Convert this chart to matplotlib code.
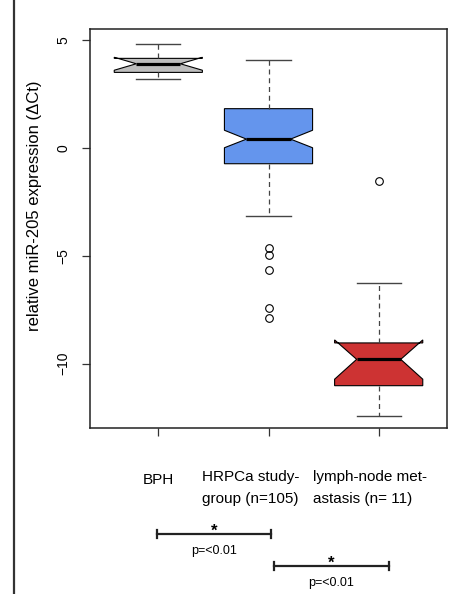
import matplotlib.pyplot as plt
from matplotlib.lines import Line2D

plt.rcParams['font.family'] = ['Liberation Sans', 'DejaVu Sans']

# group stats (relative miR-205 expression, dCt)
groups = ['BPH', 'HRPCa study-\ngroup (n=105)', 'lymph-node met-\nastasis (n= 11)']
whis_lo = [3.18, -3.15, -12.42]
q1 = [3.49, -0.74, -11.02]
medians = [3.89, 0.40, -9.80]
q3 = [4.14, 1.81, -9.04]
whis_hi = [4.80, 4.05, -6.26]
notch_lo = [3.59, 0.00, -10.72]
notch_hi = [4.19, 0.81, -8.90]
outliers = [[], [-4.63, -4.97, -5.66, -7.41, -7.90], [-1.53]]
colors = ['#BEBEBE', '#6495ED', '#CD3333']

# significance brackets
brackets = [(0.985, 2.02), (2.05, 3.09)]
p_labels = ['p=<0.01', 'p=<0.01']

W, H = 454, 594
fig = plt.figure(figsize=(W / 100, H / 100), dpi=100)
ax = fig.add_axes([90 / W, 1 - 428 / H, (447 - 90) / W, (428 - 29) / H])

stats = []
for i in range(len(groups)):
    stats.append(dict(med=medians[i], q1=q1[i], q3=q3[i],
                      whislo=whis_lo[i], whishi=whis_hi[i],
                      cilo=notch_lo[i], cihi=notch_hi[i],
                      fliers=outliers[i]))

bp = ax.bxp(stats, positions=[1, 2, 3], widths=0.8, shownotches=True,
            patch_artist=True,
            boxprops=dict(edgecolor='black', linewidth=0.8),
            whiskerprops=dict(color='#444444', linestyle=(0, (4, 3)), linewidth=0.9),
            capprops=dict(color='#444444', linewidth=1.0),
            medianprops=dict(color='black', linewidth=2.3),
            flierprops=dict(marker='o', markerfacecolor='none',
                            markeredgecolor='black', markersize=5.5,
                            markeredgewidth=0.8))
for patch, c in zip(bp['boxes'], colors):
    patch.set_facecolor(c)

ax.set_xlim(0.38, 3.62)
ax.set_ylim(-12.98, 5.5)
ax.set_xticks([1, 2, 3])
ax.set_xticklabels([])
ax.set_yticks([-10, -5, 0, 5])
ax.set_yticklabels(['\u221210', '\u22125', '0', '5'], rotation=90, va='center')
ax.tick_params(axis='both', direction='out', length=6, width=0.9, color='#333333')
ax.tick_params(axis='y', labelsize=10, pad=8)
for s in ax.spines.values():
    s.set_color('#222222')
    s.set_linewidth(1.1)

fig.text(35 / W, 1 - 206 / H, 'relative miR-205 expression (\u0394Ct)',
         rotation=90, ha='center', va='center', fontsize=12)

# lower annotation area, y in pixel rows
axb = fig.add_axes([90 / W, 0, (447 - 90) / W, (H - 428) / H])
axb.set_xlim(ax.get_xlim())
axb.set_ylim(H, 428)
axb.axis('off')

label_x = [0.86, 1.40, 2.40]
label_y = [484, 481, 481]
for x, y0, g in zip(label_x, label_y, groups):
    for k, line in enumerate(g.split('\n')):
        axb.text(x, y0 + 22 * k, line, ha='left', va='baseline', fontsize=11)

bracket_y = [534, 566]
for (x0, x1), y, p in zip(brackets, bracket_y, p_labels):
    axb.plot([x0, x1], [y, y], color='#222222', lw=1.6)
    axb.plot([x0, x0], [y - 4, y + 4], color='#222222', lw=1.6)
    axb.plot([x1, x1], [y - 4, y + 4], color='#222222', lw=1.6)
    xm = (x0 + x1) / 2
    axb.text(xm, y + 2, '*', ha='center', va='baseline', fontsize=12,
             fontweight='bold')
    axb.text(xm, y + 20, p, ha='center', va='baseline', fontsize=9)

fig.add_artist(Line2D([13.5 / W, 13.5 / W], [0, 1], color='#333333', lw=1.6))

fig.savefig('out.png', dpi=100)
